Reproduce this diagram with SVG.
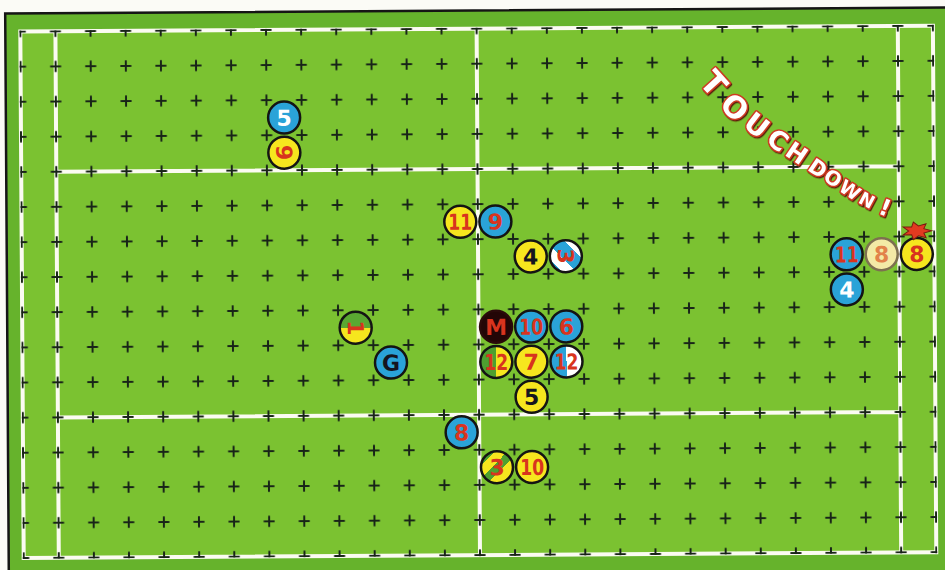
<svg xmlns="http://www.w3.org/2000/svg" width="945" height="570" viewBox="0 0 945 570">
<style>
.line{fill:none;stroke:#fbfbf2;stroke-width:4}
.rim{stroke:#141414;stroke-width:2.5}
.y{fill:#f6e61e}
.b{fill:#2aa3d8}
.n{font-family:"DejaVu Sans","Liberation Sans",sans-serif;font-weight:bold;font-size:22px;text-anchor:middle}
.r{fill:#d8341e}
.w{fill:#ffffff}
.k{fill:#15151f}
.td{font-family:"DejaVu Sans","Liberation Sans",sans-serif;font-weight:bold;fill:#ffffff;stroke:#cf3a22;stroke-width:3;stroke-linejoin:round;paint-order:stroke fill}
</style>
<defs>
<pattern id="crossPat" patternUnits="userSpaceOnUse" x="4.45" y="11.05" width="35.1" height="35.1">
<path d="M12.05 17.55h11M17.55 12.05v11" stroke="#182418" stroke-width="2" fill="none"/>
</pattern>
<linearGradient id="gyH" x1="0" y1="0" x2="1" y2="0"><stop offset="0.5" stop-color="#4e9f30"/><stop offset="0.5" stop-color="#f6e61e"/></linearGradient>
<linearGradient id="bwH" x1="0" y1="0" x2="1" y2="0"><stop offset="0.5" stop-color="#2aa3d8"/><stop offset="0.5" stop-color="#ffffff"/></linearGradient>
<linearGradient id="gyV" x1="0" y1="0" x2="0" y2="1"><stop offset="0.5" stop-color="#5aa832"/><stop offset="0.5" stop-color="#f6e61e"/></linearGradient>
<linearGradient id="gyDiag" x1="0" y1="0" x2="1" y2="1">
<stop offset="0.22" stop-color="#4e9f30"/><stop offset="0.22" stop-color="#f6e61e"/>
<stop offset="0.42" stop-color="#f6e61e"/><stop offset="0.42" stop-color="#4e9f30"/>
<stop offset="0.6" stop-color="#4e9f30"/><stop offset="0.6" stop-color="#f6e61e"/>
</linearGradient>
<linearGradient id="bwDiag" x1="1" y1="0" x2="0" y2="1">
<stop offset="0.28" stop-color="#ffffff"/><stop offset="0.28" stop-color="#2aa3d8"/>
<stop offset="0.58" stop-color="#2aa3d8"/><stop offset="0.58" stop-color="#ffffff"/>
<stop offset="0.8" stop-color="#ffffff"/><stop offset="0.8" stop-color="#2aa3d8"/>
</linearGradient>
<filter id="tdShadow" x="-10%" y="-10%" width="130%" height="130%">
<feDropShadow dx="1" dy="1.3" stdDeviation="0.5" flood-color="#5a2010"/>
</filter>
</defs>

<rect x="0" y="0" width="945" height="570" fill="#fbfbf6"/>

<g transform="rotate(-0.37 478 292)">
  <g id="pitch">
    <rect x="7" y="10.5" width="980" height="620" fill="#66b32c" stroke="#151515" stroke-width="2.5"/>
    <rect x="22" y="28.6" width="912.6" height="526.5" fill="#7bc231"/>
    <rect class="line" x="22" y="28.6" width="912.6" height="526.5"/>
    <path class="line" d="M57.1 28.6V555.1M899.5 28.6V555.1M478.3 28.6V555.1M57.1 169H899.5M57.1 414.7H899.5"/>
    <rect x="21" y="27.6" width="914.6" height="528.5" fill="url(#crossPat)"/>
  </g>

  <g id="connectors"></g>

  <g id="p-blue5" transform="translate(285.25 116.35)"><circle r="16" class="rim b"/><text class="n w" y="8">5</text></g>
  <g id="p-yellow9-prone" transform="translate(285.25 151.45)"><circle r="16" class="rim y"/><text class="n r" y="8" transform="rotate(90)">9</text></g>
  <g id="p-yellow11" transform="translate(460.75 221.65)"><circle r="16" class="rim y"/><text class="n r" y="8" textLength="24" lengthAdjust="spacingAndGlyphs">11</text></g>
  <g id="p-blue9" transform="translate(495.85 221.65)"><circle r="16" class="rim b"/><text class="n r" y="8">9</text></g>
  <g id="p-yellow4" transform="translate(530.95 256.75)"><circle r="16" class="rim y"/><text class="n k" y="8">4</text></g>
  <g id="p-bw3-prone" transform="translate(566.05 256.75)"><circle r="16" class="rim" fill="url(#bwDiag)"/><text class="n r" y="8" transform="rotate(90)">3</text></g>
  <g id="p-gy1-prone" transform="translate(355.45 326.95)"><circle r="16" class="rim" fill="url(#gyV)"/><text class="n r" y="8" transform="rotate(90)">1</text></g>
  <g id="p-blueG" transform="translate(390.55 362.05)"><circle r="16" class="rim b"/><text class="n k" y="8">G</text></g>
  <g id="p-M" transform="translate(495.85 326.95)"><circle r="16" fill="#230606" stroke="#2a0a0a" stroke-width="2.5"/><text class="n r" y="8">M</text></g>
  <g id="p-blue10" transform="translate(530.95 326.95)"><circle r="16" class="rim b"/><text class="n r" y="8" textLength="24" lengthAdjust="spacingAndGlyphs">10</text></g>
  <g id="p-blue6" transform="translate(566.05 326.95)"><circle r="16" class="rim b"/><text class="n r" y="8">6</text></g>
  <g id="p-gy12" transform="translate(495.85 362.05)"><circle r="16" class="rim" fill="url(#gyH)"/><text class="n r" y="8" textLength="24" lengthAdjust="spacingAndGlyphs">12</text></g>
  <g id="p-yellow7" transform="translate(530.95 362.05)"><circle r="16" class="rim y"/><text class="n r" y="8">7</text></g>
  <g id="p-bw12" transform="translate(566.05 362.05)"><circle r="16" class="rim" fill="url(#bwH)"/><text class="n r" y="8" textLength="24" lengthAdjust="spacingAndGlyphs">12</text></g>
  <g id="p-yellow5" transform="translate(530.95 397.15)"><circle r="16" class="rim y"/><text class="n k" y="8">5</text></g>
  <g id="p-blue8" transform="translate(460.75 432.25)"><circle r="16" class="rim b"/><text class="n r" y="8">8</text></g>
  <g id="p-gy3" transform="translate(495.85 467.35)"><circle r="16" class="rim" fill="url(#gyDiag)"/><text class="n r" y="8">3</text></g>
  <g id="p-yellow10" transform="translate(530.95 467.35)"><circle r="16" class="rim y"/><text class="n r" y="8" textLength="24" lengthAdjust="spacingAndGlyphs">10</text></g>
  <g id="p-blue11" transform="translate(846.85 256.75)"><circle r="16" class="rim b"/><text class="n r" y="8" textLength="24" lengthAdjust="spacingAndGlyphs">11</text></g>
  <g id="p-cream8" transform="translate(881.95 256.75)"><circle r="16" fill="#f3eaa6" stroke="#7d7050" stroke-width="2.5"/><text class="n" y="8" fill="#e2824a">8</text></g>
  <g id="p-yellow8" transform="translate(917.05 256.75)"><circle r="16" class="rim y"/><text class="n r" y="8">8</text>
    <polygon points="15,0 7.2,2.2 9.4,7 1.8,4.9 -3.3,8.8 -5,3.9 -13.5,3.9 -8,0 -13.5,-3.9 -5,-3.9 -3.3,-8.8 1.8,-4.9 9.4,-7 7.2,-2.2" transform="translate(0 -23)" fill="#e23a20" stroke="#7a1a10" stroke-width="1"/>
  </g>
  <g id="p-blue4" transform="translate(846.85 291.85)"><circle r="16" class="rim b"/><text class="n w" y="8">4</text></g>
</g>

<g id="touchdown-label" filter="url(#tdShadow)">
<text class="td"><tspan x="698" y="82.7" rotate="48" style="font-size:32px">T</tspan><tspan x="718.2" y="106" rotate="44" style="font-size:30px">O</tspan><tspan x="741.8" y="126" rotate="38" style="font-size:28px">U</tspan><tspan x="764.8" y="142.3" rotate="35" style="font-size:26px">C</tspan><tspan x="783.8" y="154.6" rotate="34" style="font-size:24px">H</tspan><tspan x="806.5" y="169.5" rotate="34" style="font-size:21px">D</tspan><tspan x="821.9" y="179.3" rotate="34" style="font-size:20px">O</tspan><tspan x="837.4" y="190.1" rotate="33" style="font-size:19px">W</tspan><tspan x="857.3" y="202.3" rotate="28" style="font-size:18px">N</tspan><tspan x="877.2" y="212.9" rotate="22" style="font-size:23px">!</tspan></text>
</g>
</svg>
